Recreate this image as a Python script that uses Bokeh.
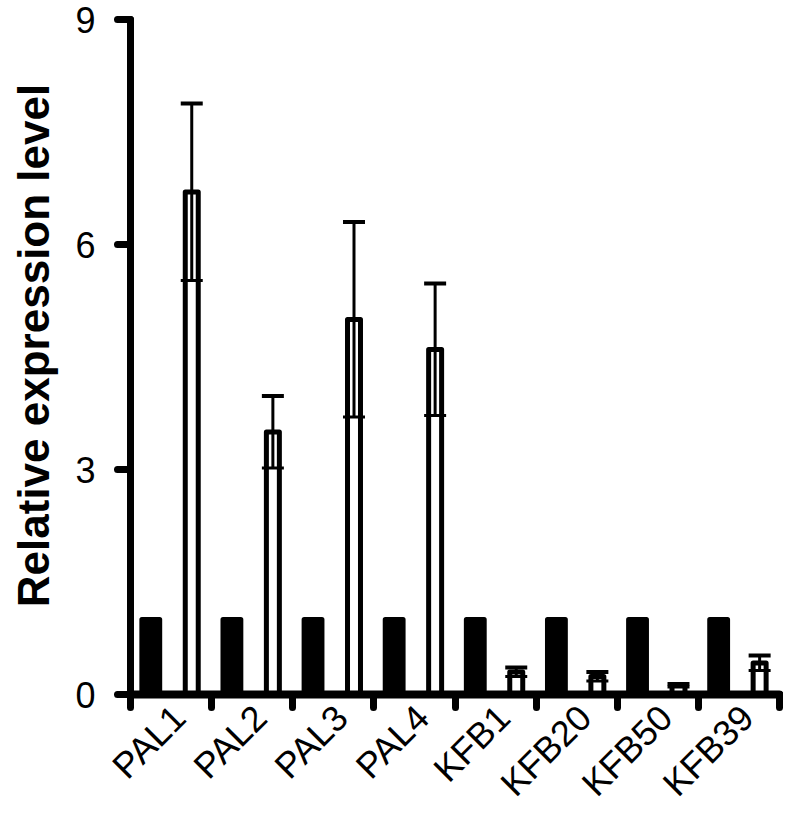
from math import pi
from bokeh.plotting import figure
from bokeh.models import (ColumnDataSource, Range1d, LinearAxis, FixedTicker, Whisker,
                          TeeHead, Label)
from bokeh.transform import dodge
from bokeh.embed import file_html
from bokeh.resources import INLINE

# ---- data ----
genes = ["PAL1", "PAL2", "PAL3", "PAL4", "KFB1", "KFB20", "KFB50", "KFB39"]
control = [1.0, 1.0, 1.0, 1.0, 1.0, 1.0, 1.0, 1.0]
treated = [6.70, 3.50, 5.00, 4.60, 0.30, 0.24, 0.12, 0.42]
treated_err = [1.18, 0.48, 1.30, 0.88, 0.06, 0.06, 0.02, 0.10]
y_ticks = [0, 3, 6, 9]
y_label = "Relative expression level"

FONT = "Liberation Sans"

pos = list(range(len(genes)))
src = ColumnDataSource(dict(
    pos=pos,
    control=control,
    treated=treated,
    upper=[v + e for v, e in zip(treated, treated_err)],
    lower=[v - e for v, e in zip(treated, treated_err)],
))

# ---- layout in canvas pixels (frame covers the whole canvas) ----
W, H = 783, 809
LEFT, RIGHT = 130, 779      # x = 0 and x = n_categories
TOP, ZERO = 19, 694         # y = 9 and y = 0
n = len(genes)
y_max = max(y_ticks)
ppx = (RIGHT - LEFT) / n
ppy = (ZERO - TOP) / y_max
x_min, x_max = -LEFT / ppx, n + (W - RIGHT) / ppx
y_min, y_top = -(H - ZERO) / ppy, y_max + TOP / ppy

p = figure(width=W, height=H,
           x_range=Range1d(x_min, x_max), y_range=Range1d(y_min, y_top),
           x_axis_type=None, y_axis_type=None,
           output_backend="svg", toolbar_location=None,
           min_border=0, min_border_left=0, min_border_right=0,
           min_border_top=0, min_border_bottom=0)
p.outline_line_color = None
p.background_fill_color = "white"
p.border_fill_color = "white"

# control bars (black)
p.vbar(x=dodge("pos", 0.25), top="control", width=0.22, source=src,
       fill_color="black", line_color="black", line_width=5, line_join="round")
# treated bars (white)
p.vbar(x=dodge("pos", 0.755), top="treated", width=0.16, source=src,
       fill_color="white", line_color="black", line_width=5, line_join="round")

whisk = Whisker(base=dodge("pos", 0.755), upper="upper", lower="lower", source=src,
                line_color="black", line_width=3, level="overlay",
                upper_head=TeeHead(size=22, line_width=4, line_color="black"),
                lower_head=TeeHead(size=22, line_width=3, line_color="black"))
p.add_layout(whisk)

# y axis at x = 0, drawn from 0 to 9
yaxis = LinearAxis(ticker=FixedTicker(ticks=y_ticks, minor_ticks=[]),
                   fixed_location=0, bounds=(0, y_max),
                   axis_line_width=7, axis_line_color="black", axis_line_cap="round",
                   major_tick_line_width=7, major_tick_line_cap="round",
                   major_tick_out=13, major_tick_in=0,
                   minor_tick_line_color=None,
                   major_label_text_font=FONT, major_label_text_font_size="36px",
                   major_label_text_color="black",
                   major_label_standoff=22)
p.add_layout(yaxis, "left")

# x axis at y = 0: boundary tick marks as minor ticks, labels at shifted centres
off = 0.1
label_pos = [round(i + 0.5 + off, 3) for i in pos]
overrides = {}
for lp, g in zip(label_pos, genes):
    overrides[lp] = g
    overrides[str(lp)] = g
xaxis = LinearAxis(ticker=FixedTicker(ticks=label_pos, minor_ticks=list(range(n + 1))),
                   fixed_location=0, bounds=(0, n),
                   axis_line_width=8, axis_line_color="black", axis_line_cap="round",
                   major_tick_line_color=None, major_tick_out=0, major_tick_in=0,
                   minor_tick_line_color="black", minor_tick_line_width=7,
                   minor_tick_line_cap="round", minor_tick_out=13, minor_tick_in=0,
                   major_label_overrides=overrides,
                   major_label_orientation=pi / 4,
                   major_label_text_font=FONT, major_label_text_font_size="36px",
                   major_label_text_color="black",
                   major_label_standoff=4)
p.add_layout(xaxis, "below")

# y-axis title (vertical, bold)
title_x = (33 - LEFT) / ppx          # baseline ~33 px from the canvas left edge
title_y = (ZERO - 345) / ppy         # centred ~345 px from the canvas top
p.add_layout(Label(x=title_x, y=title_y, text=y_label, angle=pi / 2,
                   text_align="center", text_baseline="alphabetic",
                   text_font=FONT, text_font_size="44px", text_font_style="bold",
                   text_color="black"))

open("out.html", "w").write(file_html(p, INLINE))
